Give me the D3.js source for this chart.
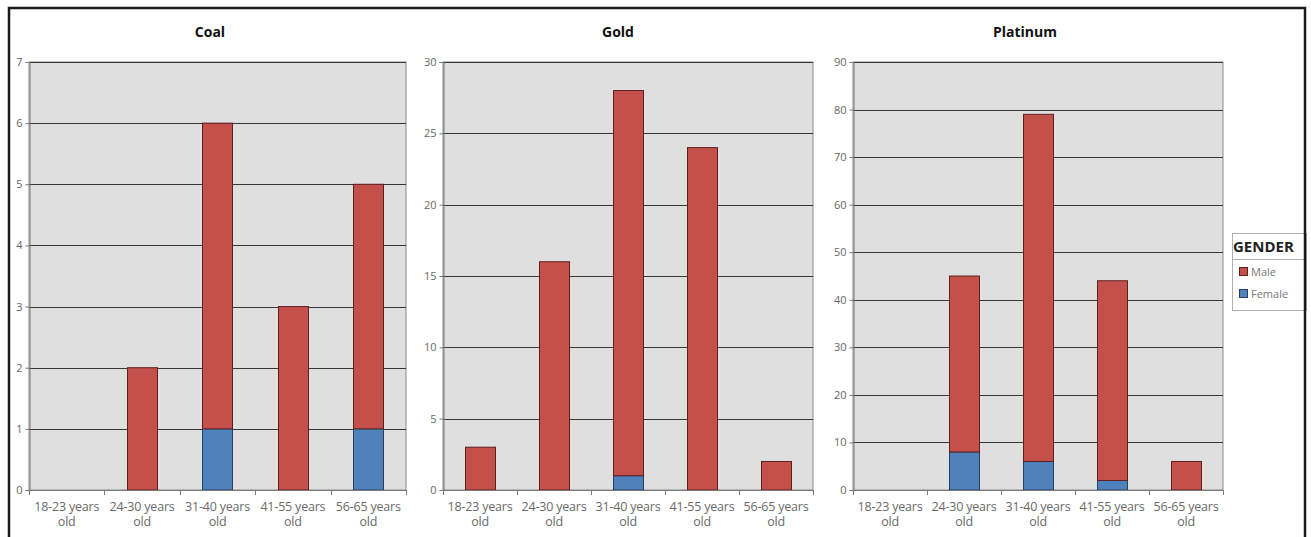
<!DOCTYPE html>
<html>
<head>
<meta charset="utf-8">
<script src="https://cdn.jsdelivr.net/npm/d3@7"></script>
<style>
  html, body { margin: 0; padding: 0; background: #fff; }
  svg { display: block; }
  text { font-family: "Open Sans", "Noto Sans", sans-serif; }
</style>
</head>
<body>
<div id="chart"></div>
<script>
// ---- Data ----
const categories = ["18-23 years old", "24-30 years old", "31-40 years old", "41-55 years old", "56-65 years old"];
const seriesNames = ["Male", "Female"];
const panelTitles = ["Coal", "Gold", "Platinum"];
const coalFemale = [0, 0, 1, 0, 1];
const coalMale = [0, 2, 5, 3, 4];
const goldFemale = [0, 0, 1, 0, 0];
const goldMale = [3, 16, 27, 24, 2];
const platinumFemale = [0, 8, 6, 2, 0];
const platinumMale = [0, 37, 73, 42, 6];
const coalTicks = [0, 1, 2, 3, 4, 5, 6, 7];
const goldTicks = [0, 5, 10, 15, 20, 25, 30];
const platinumTicks = [0, 10, 20, 30, 40, 50, 60, 70, 80, 90];
const legendTitle = "GENDER";

// ---- Layout / style ----
const W = 1311, H = 537;
const colors = { Male: "#C4504C", Female: "#4F81BD" };
const strokes = { Male: "#5e201e", Female: "#27405f" };
const plotTop = 62, plotBottom = 490;
const panels = [
  { title: panelTitles[0], male: coalMale, female: coalFemale, ticks: coalTicks, x0: 29, x1: 406, tx: 210 },
  { title: panelTitles[1], male: goldMale, female: goldFemale, ticks: goldTicks, x0: 443, x1: 813, tx: 618 },
  { title: panelTitles[2], male: platinumMale, female: platinumFemale, ticks: platinumTicks, x0: 853, x1: 1223, tx: 1025 }
];

const svg = d3.select("#chart").append("svg").attr("width", W).attr("height", H);
svg.append("rect").attr("width", W).attr("height", H).attr("fill", "#fff");

panels.forEach(p => {
  const g = svg.append("g");
  const x = d3.scaleBand().domain(categories).range([p.x0, p.x1]).paddingInner(0.6).paddingOuter(0.3);
  const yMax = p.ticks[p.ticks.length - 1];
  const y = d3.scaleLinear().domain([0, yMax]).range([plotBottom, plotTop]);

  // plot background
  g.append("rect").attr("x", p.x0).attr("y", plotTop).attr("width", p.x1 - p.x0).attr("height", plotBottom - plotTop)
    .attr("fill", "#dfdfdf").attr("stroke", "#8a8a8a").attr("stroke-width", 1);

  // gridlines
  g.selectAll(".grid").data(p.ticks.filter(t => t > 0)).join("line")
    .attr("x1", p.x0).attr("x2", p.x1)
    .attr("y1", d => Math.round(y(d)) + 0.5).attr("y2", d => Math.round(y(d)) + 0.5)
    .attr("stroke", "#363636").attr("stroke-width", 1);

  // y axis
  const yAxis = d3.axisLeft(y).tickValues(p.ticks).tickSize(4).tickPadding(3).tickFormat(d3.format("d"));
  const ya = g.append("g").attr("transform", `translate(${p.x0 + 0.5},0)`).call(yAxis);
  ya.select(".domain").attr("stroke", "#7a7a7a");
  ya.selectAll(".tick line").attr("stroke", "#7a7a7a");
  ya.selectAll(".tick text").attr("fill", "#666").style("font-size", "11px").style("font-family", "'Open Sans', sans-serif");

  // stacked bars
  const data = categories.map((c, i) => ({ cat: c, Female: p.female[i], Male: p.male[i] }));
  const stack = d3.stack().keys(["Female", "Male"])(data);
  stack.forEach(layer => {
    g.append("g").selectAll("rect").data(layer.filter(d => d[1] - d[0] > 0)).join("rect")
      .attr("x", d => Math.round(x(d.data.cat)) + 0.5)
      .attr("y", d => y(d[1]))
      .attr("width", Math.round(x.bandwidth()))
      .attr("height", d => y(d[0]) - y(d[1]))
      .attr("fill", colors[layer.key])
      .attr("stroke", strokes[layer.key]).attr("stroke-width", 1);
  });

  // x axis
  const step = x.step();
  g.append("line").attr("x1", p.x0).attr("x2", p.x1).attr("y1", plotBottom + 0.5).attr("y2", plotBottom + 0.5)
    .attr("stroke", "#7a7a7a");
  g.selectAll(".xt").data(d3.range(categories.length + 1)).join("line")
    .attr("x1", i => Math.round(p.x0 + i * step) + 0.5).attr("x2", i => Math.round(p.x0 + i * step) + 0.5)
    .attr("y1", plotBottom).attr("y2", plotBottom + 5).attr("stroke", "#7a7a7a");

  const xl = g.selectAll(".xl").data(categories).join("text")
    .attr("text-anchor", "middle").attr("fill", "#6a6a6a").style("font-size", "12.5px").style("letter-spacing", "-0.2px");
  xl.each(function(d) {
    const cx = x(d) + x.bandwidth() / 2;
    const parts = [d.replace(/ old$/, ""), "old"];
    d3.select(this).selectAll("tspan").data(parts).join("tspan")
      .attr("x", cx).attr("y", (t, j) => 511 + j * 15).text(t => t);
  });

  // title
  g.append("text").attr("x", p.tx).attr("y", 37).attr("text-anchor", "middle")
    .attr("fill", "#111").style("font-size", "14px").style("font-weight", "bold").text(p.title);
});

// legend
const lg = svg.append("g");
lg.append("rect").attr("x", 1232.5).attr("y", 233.5).attr("width", 74).attr("height", 77)
  .attr("fill", "#fff").attr("stroke", "#b0b0b0");
lg.append("line").attr("x1", 1232.5).attr("x2", 1306).attr("y1", 259.5).attr("y2", 259.5).attr("stroke", "#b0b0b0");
lg.append("text").attr("x", 1233).attr("y", 252).attr("fill", "#222")
  .style("font-size", "15px").style("font-weight", "bold").text(legendTitle);
seriesNames.forEach((s, i) => {
  const yy = 267 + i * 22;
  lg.append("rect").attr("x", 1239.5).attr("y", yy + 0.5).attr("width", 8).attr("height", 8)
    .attr("fill", colors[s]).attr("stroke", strokes[s]);
  lg.append("text").attr("x", 1251).attr("y", yy + 8.5).attr("fill", "#777").style("font-size", "11px").text(s);
});

// outer border
svg.append("rect").attr("x", 9).attr("y", 8).attr("width", 1296).attr("height", 560)
  .attr("fill", "none").attr("stroke", "#1a1a1a").attr("stroke-width", 2.5);
</script>
</body>
</html>
